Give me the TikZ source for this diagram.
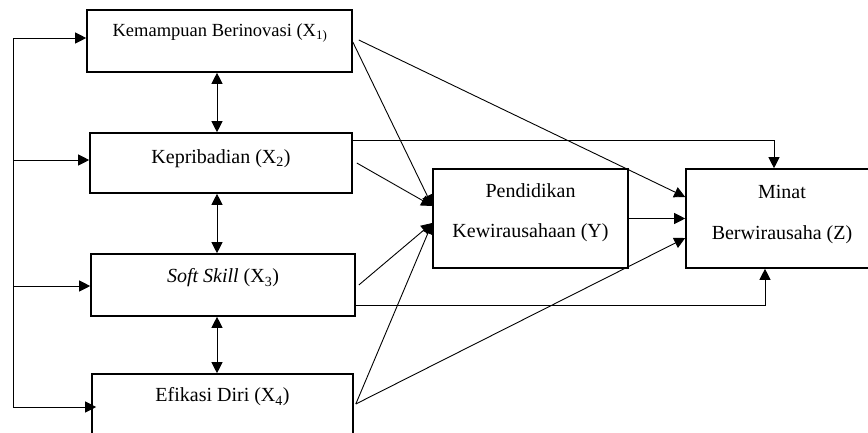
\documentclass[tikz,border=0pt]{standalone}
\usepackage{fontspec}
\setmainfont{Liberation Serif}
\usetikzlibrary{arrows.meta}
\begin{document}
\begin{tikzpicture}[x=1pt,y=-1pt,
  boxst/.style={draw, line width=1.6pt, inner sep=0pt, rectangle},
  lbl/.style={inner sep=0pt, font=\fontsize{20}{24}\selectfont},
  lblsmall/.style={inner sep=0pt, font=\fontsize{18.5}{22}\selectfont},
  conn/.style={line width=0.9pt},
  arr/.style={conn, -{Triangle[length=11pt,width=11pt]}},
  darr/.style={conn, {Triangle[length=11pt,width=11pt]}-{Triangle[length=11pt,width=11pt]}}]
\useasboundingbox (0,0) rectangle (868,432);
\clip (0,0) rectangle (868,432);
% boxes
\node[boxst, minimum width=265pt, minimum height=62pt] (x1) at (219.5,41) {};
\node[boxst, minimum width=262pt, minimum height=60pt] (x2) at (221,163) {};
\node[boxst, minimum width=264pt, minimum height=62pt] (x3) at (223,285) {};
\node[boxst, minimum width=261pt, minimum height=66pt] (x4) at (222.5,407) {};
\node[boxst, minimum width=195pt, minimum height=99pt] (y) at (530.5,218.5) {};
\node[boxst, minimum width=192pt, minimum height=99pt] (z) at (782,218.5) {};
% labels
\node[lblsmall] (t1) at (220,33) {Kemampuan Berinovasi (X\textsubscript{1)}};
\node[lbl] (t2) at (221,159) {Kepribadian (X\textsubscript{2})};
\node[lbl] (t3) at (223,278) {\textit{Soft Skill} (X\textsubscript{3})};
\node[lbl] (t4) at (222.5,397) {Efikasi Diri (X\textsubscript{4})};
\node[lbl] (ty1) at (530.5,191) {Pendidikan};
\node[lbl] (ty2) at (530.5,233) {Kewirausahaan (Y)};
\node[lbl] (tz1) at (782,192) {Minat};
\node[lbl] (tz2) at (782,235) {Berwirausaha (Z)};
% left feedback lines
\coordinate (l1) at (13,38);
\coordinate (l2) at (13,160);
\coordinate (l3) at (13,286);
\coordinate (l4) at (13,407);
\draw[conn] (l1) -- (l4);
\draw[arr] (l1) -- (l1 -| x1.west);
\draw[arr] (l2) -- (l2 -| x2.west);
\draw[arr] (l3) -- (l3 -| x3.west);
\draw[arr] (l4) -- ([xshift=5pt]l4 -| x4.west);
% vertical double arrows
\coordinate (vx) at (217,0);
\draw[darr] (vx |- x1.south) -- (vx |- x2.north);
\draw[darr] (vx |- x2.south) -- (vx |- x3.north);
\draw[darr] (vx |- x3.south) -- (vx |- x4.north);
% to Y
\draw[arr] ([yshift=-1pt]x1.east) -- ([yshift=12.5pt]y.west);
\draw[arr] ([xshift=4pt]x2.east) -- ([yshift=12.5pt]y.west);
\draw[arr] ([xshift=3pt]x3.east) -- ([yshift=-4.5pt]y.west);
\draw[arr] ([xshift=2pt,yshift=3pt]x4.east) -- ([yshift=-4.5pt]y.west);
% to Z
\draw[arr] ([xshift=6pt,yshift=1pt]x1.east) -- ([yshift=21.5pt]z.west);
\draw[arr] ([yshift=23pt]x2.east) -| ([xshift=-8pt]z.north);
\draw[arr] ([yshift=-20pt]x3.east) -| ([xshift=-17pt]z.south);
\draw[arr] ([xshift=2pt,yshift=3pt]x4.east) -- ([yshift=-19.5pt]z.west);
\draw[arr] (y.east) -- (z.west);
\end{tikzpicture}
\end{document}
